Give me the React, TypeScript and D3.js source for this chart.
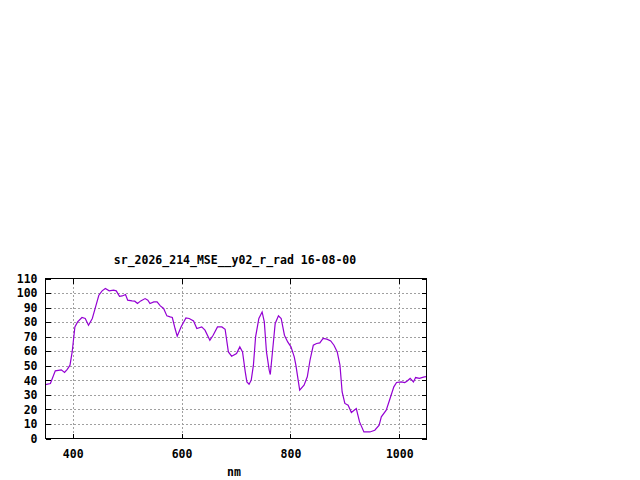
import { useEffect, useRef } from "react";
import * as d3 from "d3";

// wavelength (nm) and radiance values
const wavelengths = [
  350, 359, 368, 379, 385, 390, 395, 399, 404, 409, 417, 423, 429, 436, 442, 448, 454, 460, 467, 475,
  480, 486, 491, 497, 501, 509, 514, 519, 525, 533, 538, 542, 549, 555, 561, 567, 573, 579, 583, 588,
  592, 599, 608, 614, 622, 628, 637, 643, 652, 658, 666, 674, 680, 686, 692, 701, 707, 712, 717, 720,
  724, 728, 732, 736, 742, 748, 752, 756, 761, 763, 767, 772, 778, 783, 789, 795, 801, 807, 810, 817,
  825, 831, 836, 842, 848, 854, 860, 867, 874, 880, 886, 891, 895, 900, 906, 912, 921, 927, 935, 946,
  955, 963, 967, 976, 982, 990, 995, 1004, 1010, 1014, 1020, 1026, 1030, 1037, 1046, 1050,
];
const radiance = [
  37, 37.8, 46.5, 47.2, 45.4, 47.6, 50.4, 59.5, 76.7, 80.2, 83.2, 82.5, 77.9, 82.5, 90.5, 98.5, 101.5, 103.1, 101.5, 102,
  101.5, 97.8, 98, 99, 95.1, 94.6, 94.4, 92.8, 94.6, 96.2, 95.1, 92.8, 93.9, 93.9, 91.2, 89.4, 84.3, 83.6, 83.2, 75.6,
  70.3, 76.7, 82.9, 82.5, 80.8, 75.6, 76.7, 74.5, 67.6, 71, 76.7, 76.7, 75.1, 59.5, 56.6, 58.4, 63, 59.5, 45.8, 38.9,
  37.3, 40.1, 50.4, 69.9, 82.5, 87, 80.2, 59.5, 47, 44, 59.5, 79.1, 84.3, 82.5, 71, 66.4, 63, 56.1, 50.4, 33.2,
  36.6, 42.4, 53.8, 64.1, 65.3, 65.7, 68.8, 68.3, 67.1, 64.1, 59.5, 50.4, 32, 24.1, 22.9, 17.9, 20.6, 11.4, 4.5, 4.5,
  5.7, 9.1, 14.9, 19.5, 26.3, 35.5, 38.5, 38.9, 38.5, 39.4, 41.3, 38.9, 41.9, 41.3, 42.4, 42.5,
];
const xTicks = [400, 600, 800, 1000];
const yTicks = [0, 10, 20, 30, 40, 50, 60, 70, 80, 90, 100, 110];

const title = "sr_2026_214_MSE__y02_r_rad 16-08-00";
const xLabel = "nm";

const W = 640;
const H = 480;
const left = 45.5;
const right = 426.5;
const top = 278.5;
const bottom = 438.5;
const FONT = "'DejaVu Sans Mono', 'Liberation Mono', monospace";

export default function App() {
  const ref = useRef<SVGSVGElement>(null);

  useEffect(() => {
    if (!ref.current) return;
    const svg = d3.select(ref.current);
    svg.selectAll("*").remove();

    const x = d3.scaleLinear().domain([350, 1050]).range([left, right]);
    const y = d3.scaleLinear().domain([0, 110]).range([bottom, top]);

    svg.append("rect").attr("width", W).attr("height", H).attr("fill", "#fff");

    // grid
    const grid = svg.append("g").attr("stroke", "#a0a0a0").attr("stroke-dasharray", "2,2").attr("shape-rendering", "crispEdges");
    grid
      .selectAll("line.gx")
      .data(xTicks)
      .join("line")
      .attr("x1", (d) => Math.round(x(d)) + 0.5)
      .attr("x2", (d) => Math.round(x(d)) + 0.5)
      .attr("y1", top)
      .attr("y2", bottom);
    grid
      .selectAll("line.gy")
      .data(yTicks.filter((d) => d > 0 && d < 110))
      .join("line")
      .attr("class", "gy")
      .attr("x1", left)
      .attr("x2", right)
      .attr("y1", (d) => Math.round(y(d)) + 0.5)
      .attr("y2", (d) => Math.round(y(d)) + 0.5);

    // axes, ticks inward and mirrored like gnuplot
    const styleAxis = (g: d3.Selection<SVGGElement, unknown, null, undefined>) => {
      g.select(".domain").remove();
      g.selectAll(".tick line").attr("stroke", "#000").attr("shape-rendering", "crispEdges");
      g.selectAll(".tick text")
        .attr("fill", "#000")
        .attr("font-family", FONT)
        .attr("font-weight", "bold")
        .attr("font-size", "11.5px");
    };

    svg
      .append("g")
      .attr("transform", `translate(0,${bottom})`)
      .call(d3.axisBottom(x).tickValues(xTicks).tickSize(-5).tickPadding(11).tickFormat(d3.format("d")))
      .call(styleAxis);
    svg
      .append("g")
      .attr("transform", `translate(0,${top})`)
      .call(d3.axisTop(x).tickValues(xTicks).tickSize(-5).tickFormat(() => ""))
      .call(styleAxis);
    svg
      .append("g")
      .attr("transform", `translate(${left},0)`)
      .call(d3.axisLeft(y).tickValues(yTicks).tickSize(-5).tickPadding(8).tickFormat(d3.format("d")))
      .call(styleAxis);
    svg
      .append("g")
      .attr("transform", `translate(${right},0)`)
      .call(d3.axisRight(y).tickValues(yTicks).tickSize(-5).tickFormat(() => ""))
      .call(styleAxis);

    // data line
    const line = d3
      .line<number>()
      .x((_d, i) => x(wavelengths[i]))
      .y((d) => y(d));
    svg
      .append("path")
      .datum(radiance)
      .attr("fill", "none")
      .attr("stroke", "#9400d3")
      .attr("stroke-width", 1.2)
      .attr("d", line);

    // border
    svg
      .append("rect")
      .attr("x", left)
      .attr("y", top)
      .attr("width", right - left)
      .attr("height", bottom - top)
      .attr("fill", "none")
      .attr("stroke", "#000")
      .attr("shape-rendering", "crispEdges");

    svg
      .append("text")
      .attr("x", 235)
      .attr("y", 264)
      .attr("text-anchor", "middle")
      .attr("font-family", FONT)
      .attr("font-weight", "bold")
      .attr("font-size", "11.5px")
      .text(title);

    svg
      .append("text")
      .attr("x", 234)
      .attr("y", 475.5)
      .attr("text-anchor", "middle")
      .attr("font-family", FONT)
      .attr("font-weight", "bold")
      .attr("font-size", "11.5px")
      .text(xLabel);
  }, []);

  return (
    <svg
      ref={ref}
      width={W}
      height={H}
      style={{ position: "absolute", left: 0, top: 0, display: "block" }}
    />
  );
}
